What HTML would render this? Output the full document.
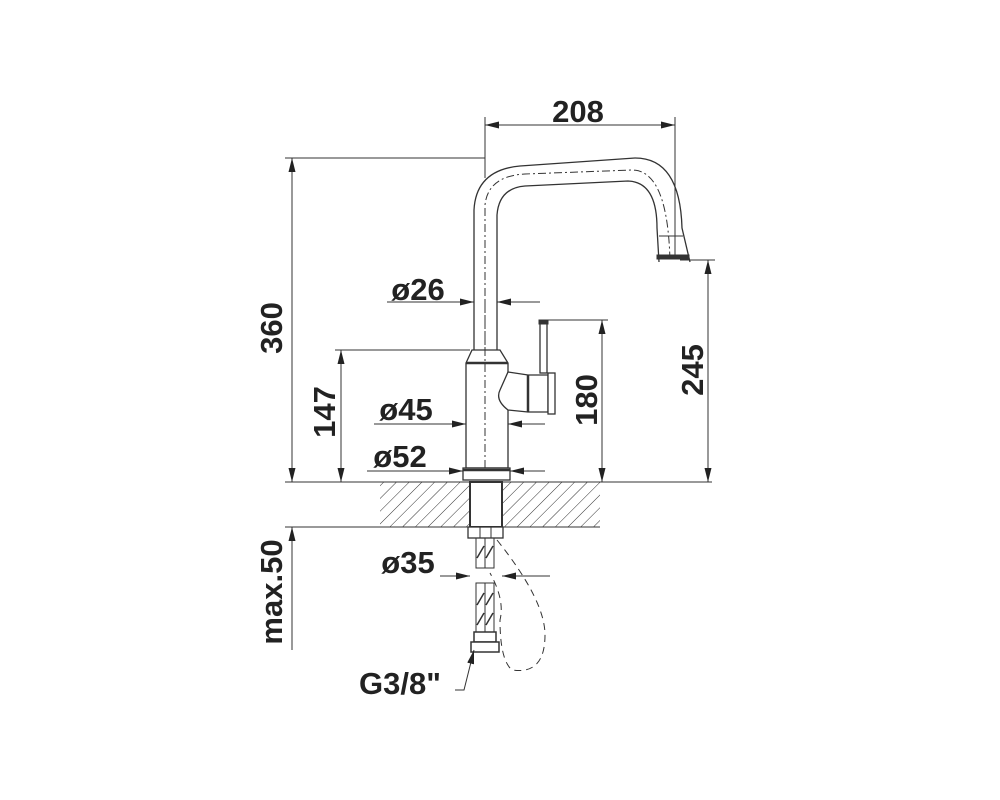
<!DOCTYPE html>
<html><head><meta charset="utf-8"><style>
html,body{margin:0;padding:0;background:#fff;}
svg{display:block}
text{font-family:"Liberation Sans",sans-serif;font-weight:bold;fill:#222;font-size:31px;}
</style></head><body>
<svg width="1000" height="800" viewBox="0 0 1000 800" xmlns="http://www.w3.org/2000/svg">
<defs>
<marker id="a" viewBox="0 0 14 7" refX="14" refY="3.5" markerWidth="14" markerHeight="7" orient="auto-start-reverse" markerUnits="userSpaceOnUse"><path d="M0,0 L14,3.5 L0,7 z" fill="#222"/></marker>
<pattern id="h" width="9" height="9" patternUnits="userSpaceOnUse" patternTransform="rotate(45)"><line x1="0" y1="0" x2="0" y2="9" stroke="#333" stroke-width="1"/></pattern>
</defs>
<g stroke="#333" stroke-width="1" fill="none">
<rect x="380" y="482" width="220" height="45" fill="url(#h)" stroke="none"/>
<rect x="470" y="482" width="32" height="45" fill="#fff" stroke="none"/>
<line x1="285" y1="482" x2="712" y2="482"/>
<line x1="285" y1="527" x2="600" y2="527"/>
<path d="M474,350 L474,210 Q476,170 520,166 L635,158 Q680,158 682,228 L690,262" stroke-width="1.3"/>
<path d="M497,350 L497,215 Q499,188 525,186 L628,181 Q657,182 657,228 L659,262" stroke-width="1.3"/>
<path d="M485,440 L485,205 Q488,176 525,174 L632,170 Q668,170 670,262" stroke-dasharray="8,3,2,3"/>
<line x1="659" y1="236" x2="683" y2="236"/>
<rect x="657" y="255" width="32" height="4" fill="#333"/>
<path d="M472,350 L500,350 L508,363 L508,468 L466,468 L466,363 Z" stroke-width="1.3" fill="#fff"/>
<line x1="466" y1="363" x2="508" y2="363" stroke-width="2.5"/>
<line x1="485" y1="300" x2="485" y2="480" stroke-dasharray="8,3,2,3"/>
<rect x="463" y="468" width="47" height="12" fill="#fff" stroke-width="1.3"/>
<line x1="463" y1="470" x2="510" y2="470" stroke-width="2.5"/>
<path d="M508,372 L528,375 L548,375 L548,412 L528,412 L508,410 Q495,400 500,390 Z" fill="#fff" stroke-width="1.3"/>
<line x1="528" y1="375" x2="528" y2="412" stroke-width="2.5"/>
<rect x="548" y="373" width="7" height="41" fill="#fff" stroke-width="1.3"/>
<rect x="540" y="322" width="7" height="51" fill="#fff" stroke-width="1.3"/>
<rect x="539" y="320" width="9" height="4" fill="#333"/>
<rect x="470" y="482" width="32" height="45" fill="#fff" stroke-width="2"/>
<rect x="468" y="527" width="35" height="11" fill="#fff" stroke-width="1.3"/>
<line x1="480" y1="527" x2="480" y2="538"/><line x1="491" y1="527" x2="491" y2="538"/>
<rect x="476" y="538" width="9" height="30"/><rect x="485" y="538" width="9" height="30"/>
<rect x="476" y="583" width="9" height="50"/><rect x="485" y="583" width="9" height="50"/>
<path d="M477,558 L484,546 M486,558 L493,546 M477,605 L484,593 M486,605 L493,593 M477,625 L484,613 M486,625 L493,613" stroke-width="1.5"/>
<rect x="474" y="632" width="22" height="10" fill="#fff" stroke-width="1.5"/>
<rect x="471" y="642" width="28" height="10" fill="#fff" stroke-width="1.5"/>
<path d="M497,540 Q545,600 545,635 Q545,675 512,670 Q500,660 500,620 Q505,600 490,573" stroke-dasharray="7,5"/>
<line x1="485" y1="117" x2="485" y2="178"/>
<line x1="675" y1="117" x2="675" y2="258"/>
<line x1="485" y1="125" x2="675" y2="125" marker-start="url(#a)" marker-end="url(#a)"/>
<line x1="285" y1="158" x2="485" y2="158"/>
<line x1="292" y1="158" x2="292" y2="482" marker-start="url(#a)" marker-end="url(#a)"/>
<line x1="335" y1="350" x2="470" y2="350"/>
<line x1="341" y1="350" x2="341" y2="482" marker-start="url(#a)" marker-end="url(#a)"/>
<line x1="680" y1="260" x2="715" y2="260"/>
<line x1="708" y1="260" x2="708" y2="482" marker-start="url(#a)" marker-end="url(#a)"/>
<line x1="548" y1="320" x2="608" y2="320"/>
<line x1="602" y1="320" x2="602" y2="482" marker-start="url(#a)" marker-end="url(#a)"/>
<line x1="292" y1="650" x2="292" y2="527" marker-end="url(#a)"/>
<line x1="387" y1="302" x2="474" y2="302" marker-end="url(#a)"/>
<line x1="540" y1="302" x2="497" y2="302" marker-end="url(#a)"/>
<line x1="374" y1="424" x2="466" y2="424" marker-end="url(#a)"/>
<line x1="545" y1="424" x2="508" y2="424" marker-end="url(#a)"/>
<line x1="367" y1="471" x2="463" y2="471" marker-end="url(#a)"/>
<line x1="545" y1="471" x2="510" y2="471" marker-end="url(#a)"/>
<line x1="440" y1="576" x2="470" y2="576" marker-end="url(#a)"/>
<line x1="550" y1="576" x2="502" y2="576" marker-end="url(#a)"/>
<polyline points="455,690 464,690 474,650" marker-end="url(#a)"/>
</g>
<text x="578" y="122" text-anchor="middle">208</text>
<text x="418" y="300" text-anchor="middle">ø26</text>
<text x="406" y="420" text-anchor="middle">ø45</text>
<text x="400" y="467" text-anchor="middle">ø52</text>
<text x="408" y="573" text-anchor="middle">ø35</text>
<text x="400" y="694" text-anchor="middle">G3/8"</text>
<text transform="translate(282,328) rotate(-90)" text-anchor="middle">360</text>
<text transform="translate(335,412) rotate(-90)" text-anchor="middle">147</text>
<text transform="translate(597,400) rotate(-90)" text-anchor="middle">180</text>
<text transform="translate(703,370) rotate(-90)" text-anchor="middle">245</text>
<text transform="translate(282,592) rotate(-90)" text-anchor="middle">max.50</text>
</svg>
</body></html>
